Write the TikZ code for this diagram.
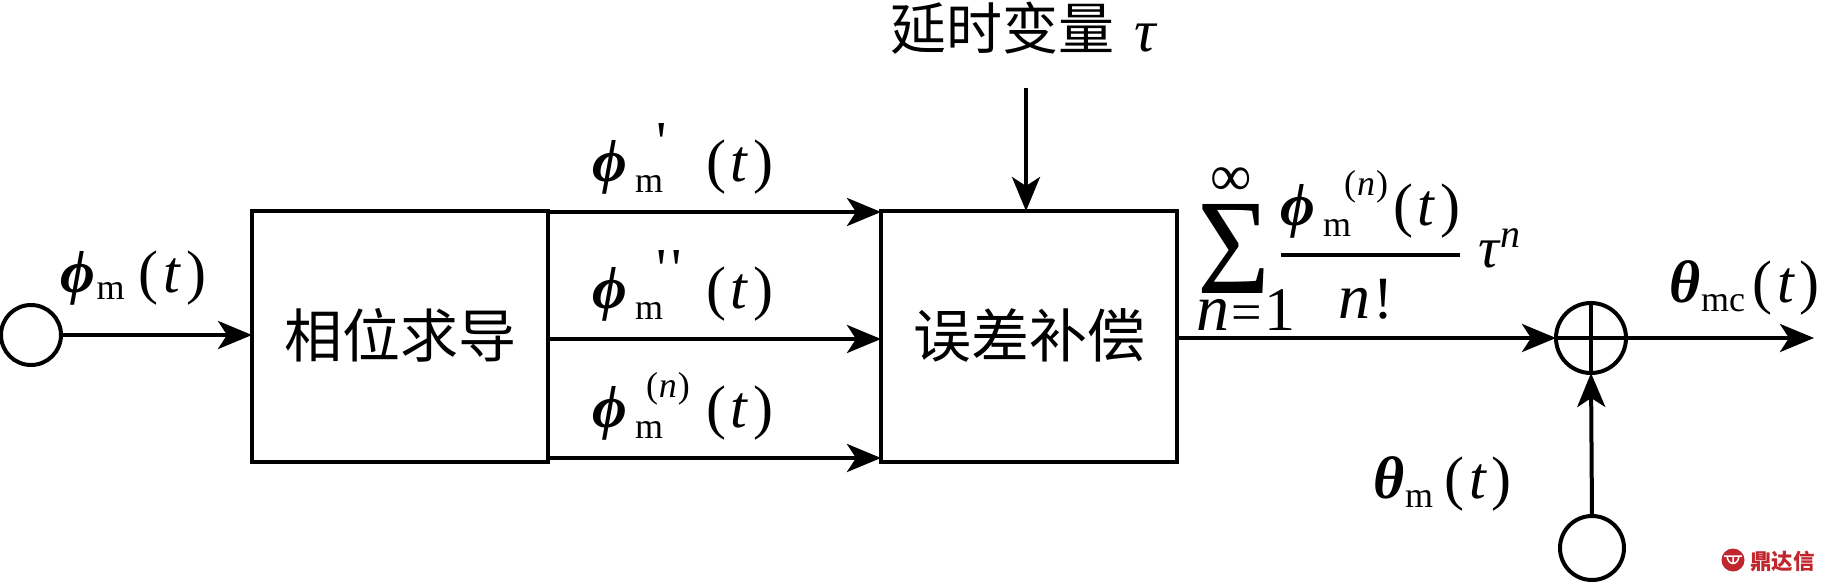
\documentclass[tikz,border=0pt]{standalone}
\usepackage{fontspec}
\setmainfont{Liberation Serif}
\newfontfamily\cjk{Noto Sans CJK SC}
\usetikzlibrary{arrows.meta}
\definecolor{wmred}{HTML}{C0262D}
\newcommand{\fsz}[1]{\fontsize{#1}{#1}\selectfont}
\newcommand{\bsym}[1]{{\fsz{60}\bfseries\itshape #1}}
\newcommand{\subf}{\fsz{36}}
\newcommand{\supf}{\fsz{36}}
\newcommand{\tpart}{{\fsz{60}(\kern5pt\itshape t\kern6pt\upshape)}}
\newcommand{\putat}[3]{\rlap{\kern#1\raisebox{#2}{#3}}}
\newcommand{\qs}{\textquotesingle}
\newcommand{\phim}[2]{\putat{0pt}{0pt}{\bsym{ϕ}}\putat{43pt}{-11pt}{\subf m}#1\kern#2\tpart}
\newcommand{\nsup}{{\supf(\kern1pt\itshape n\upshape\kern1pt)}}
\tikzset{
 every node/.style={inner sep=0pt,outer sep=0pt,text=black},
 blockbox/.style={draw=black,line width=4pt,minimum width=296pt,minimum height=251pt,fill=white},
 port/.style={draw=black,line width=4pt,circle,fill=white},
 wire/.style={draw=black,line width=4pt,-{Stealth[length=34pt,width=28pt,inset=9pt]}},
 plain/.style={draw=black,line width=4pt},
 lab/.style={anchor=base west},
 cjkl/.style={font=\cjk\fsz{58}},
}
\begin{document}
\begin{tikzpicture}[x=1pt,y=-1pt]
\useasboundingbox (0,0) rectangle (1824,583);
\node[blockbox] (a) at (400,336) {};
\node[blockbox] (b) at (1029,336) {};
\node[cjkl] (at) at (400,335) {相位求导};
\node[cjkl] (bt) at (1029,335) {误差补偿};
\node[port,minimum size=60pt] (in) at (31,335) {};
\node[port,minimum size=70pt] (sum) at (1591,338) {};
\node[port,minimum size=64pt] (in2) at (1592,548) {};
\coordinate (o) at (1814,338);
\coordinate (d) at (1026,88);
\coordinate (a1) at (548,212);
\coordinate (a2) at (548,339);
\coordinate (a3) at (548,458);
\coordinate (b1) at (881,212);
\coordinate (b2) at (881,339);
\coordinate (b3) at (881,458);
\coordinate (bo) at (1177,338);
\coordinate (bt2) at (1026,211);
\draw[wire] (in.east) -- (a.west |- in.east);
\draw[wire] (a1) -- (b1);
\draw[wire] (a2) -- (b2);
\draw[wire] (a3) -- (b3);
\draw[wire] (d) -- (bt2);
\draw[plain] (sum.west) -- (sum.east);
\draw[plain] (sum.north) -- (sum.south);
\draw[wire] (bo) -- (sum.west);
\draw[wire] (sum.east) -- (o);
\draw[wire] (in2.north) -- (sum.south);
\node[font=\cjk\fsz{56},anchor=base west] (tt) at (890,50) {延时变量};
\node[lab,font=\fsz{60}\itshape] (tau) at (1134,52) {τ};
\node[lab] (l0) at (60,292) {\bsym{ϕ}\kern2pt\raisebox{-7pt}{\subf m}\kern14pt\tpart};
\node[lab] (l1) at (592,182) {\phim{\putat{64pt}{20pt}{{\fsz{58}\qs}}}{114pt}};
\node[lab] (l2) at (592,308) {\phim{\putat{64pt}{20pt}{{\fsz{58}\qs\kern5pt\qs}}}{114pt}};
\node[lab] (l3) at (592,427) {\phim{\putat{54pt}{30pt}{\nsup}}{114pt}};
\node[lab,xscale=0.92,font=\fsz{136}] (sg) at (1197,293) {Σ};
\node[lab,font=\fsz{58}] (inf) at (1210,195) {∞};
\node[lab] (nn) at (1196,330) {{\fsz{66}\itshape n}\kern2pt{\fsz{54}=}\kern3pt{\fsz{62}1}};
\node[lab] (f1) at (1280,225) {\phim{\putat{64pt}{30pt}{\nsup}}{113pt}};
\coordinate (fa) at (1281,255);
\coordinate (fb) at (1460,255);
\draw[plain] (fa) -- (fb);
\node[lab] (f2) at (1338,318) {{\fsz{64}\itshape n}{\fsz{60}\kern3pt!}};
\node[lab] (tn) at (1478,267) {{\fsz{58}\itshape τ}\kern2pt\raisebox{20pt}{{\fsz{40}\itshape n}}};
\node[lab] (l4) at (1669,302) {\bsym{θ}\kern1pt\raisebox{-9pt}{\subf mc}\kern7pt\tpart};
\node[lab] (l5) at (1373,498) {\bsym{θ}\kern1pt\raisebox{-9pt}{\subf m}\kern11pt\tpart};
\fill[wmred] (1733,560) circle (11.5pt);
\draw[white,line width=1.5pt] (1724,556) -- (1742,556) (1727,556) .. controls (1728,566) and (1738,566) .. (1739,556) (1733,556) -- (1733,563);
\node[anchor=base west,font=\cjk\bfseries\fsz{21.5},text=wmred] (wm) at (1750,569) {鼎达信};
\end{tikzpicture}
\end{document}
